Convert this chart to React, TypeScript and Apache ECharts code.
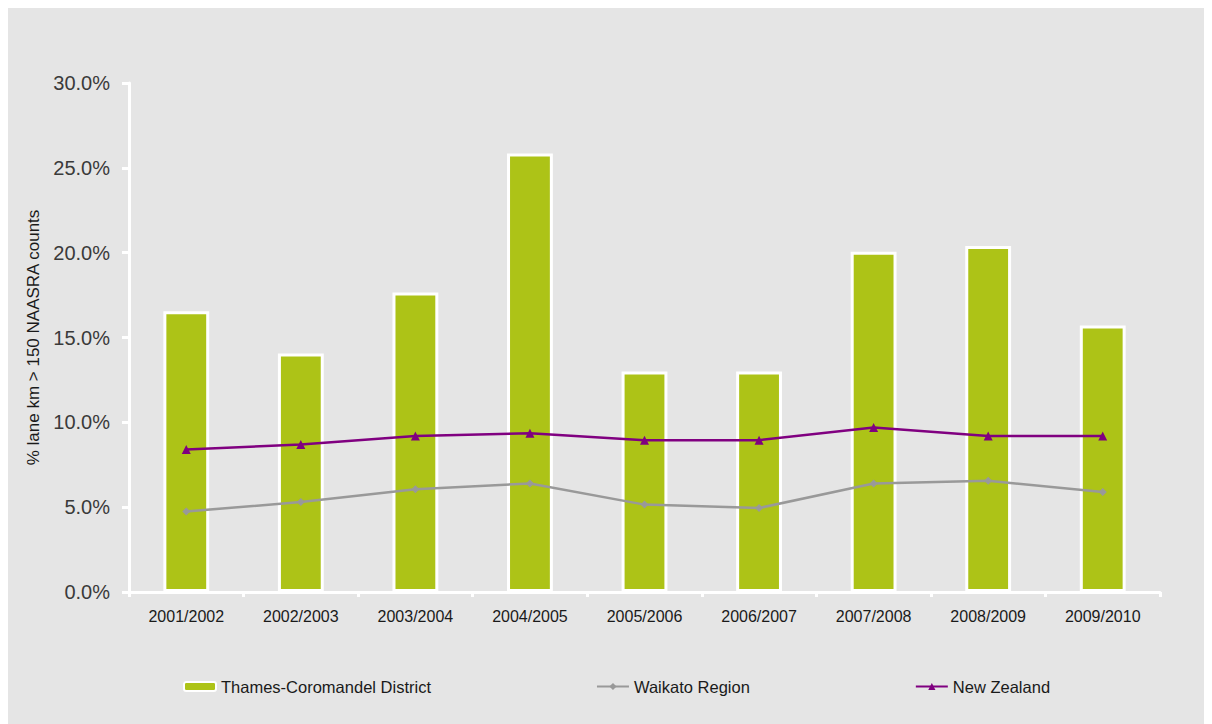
import React, { useEffect, useRef } from "react";
import * as echarts from "echarts";

const categories = ["2001/2002", "2002/2003", "2003/2004", "2004/2005", "2005/2006", "2006/2007", "2007/2008", "2008/2009", "2009/2010"];
const thamesValues = [16.55, 14.05, 17.65, 25.85, 13.0, 13.0, 20.05, 20.4, 15.7];
const waikatoValues = [4.75, 5.3, 6.05, 6.4, 5.15, 4.95, 6.4, 6.55, 5.9];
const nzValues = [8.4, 8.7, 9.2, 9.35, 8.95, 8.95, 9.7, 9.2, 9.2];
const yTicks = { min: 0, max: 30, interval: 5 };

const FONT = "'Liberation Sans', Arial, sans-serif";

export default function App() {
  const ref = useRef<HTMLDivElement>(null);
  useEffect(() => {
    if (!ref.current) return;
    const chart = echarts.init(ref.current, undefined, { renderer: "svg" });
    chart.setOption({
      animation: false,
      backgroundColor: "#e5e5e5",
      textStyle: { fontFamily: FONT },
      grid: { left: 121, right: 52, top: 75, bottom: 132, containLabel: false },
      legend: {
        left: 170,
        top: 665,
        itemGap: 165,
        itemWidth: 32,
        itemHeight: 9,
        textStyle: { fontFamily: FONT, fontSize: 16.5, color: "#1a1a1a" },
        data: [
          { name: "Thames-Coromandel District", itemStyle: { color: "#adc317", borderColor: "#ffffff", borderWidth: 2 } },
          { name: "Waikato Region" },
          { name: "New Zealand" },
        ],
      },
      xAxis: {
        type: "category",
        data: categories,
        axisLine: { show: true, lineStyle: { color: "#ffffff", width: 3 } },
        axisTick: { show: true, alignWithLabel: false, length: 5, lineStyle: { color: "#ffffff", width: 3 } },
        axisLabel: { margin: 16, fontSize: 16, color: "#1a1a1a", fontFamily: FONT },
        splitLine: { show: false },
      },
      yAxis: {
        type: "value",
        min: yTicks.min,
        max: yTicks.max,
        interval: yTicks.interval,
        name: "% lane km > 150 NAASRA counts",
        nameLocation: "middle",
        nameGap: 87,
        nameTextStyle: { fontSize: 17, color: "#1a1a1a", fontFamily: FONT },
        axisLine: { show: true, lineStyle: { color: "#ffffff", width: 3 } },
        axisTick: { show: true, length: 7, lineStyle: { color: "#ffffff", width: 3 } },
        axisLabel: {
          margin: 19,
          fontSize: 20,
          color: "#3a3a3a",
          fontFamily: FONT,
          formatter: (v: number) => v.toFixed(1) + "%",
        },
        splitLine: { show: false },
      },
      series: [
        {
          name: "Thames-Coromandel District",
          type: "bar",
          data: thamesValues,
          barWidth: "40%",
          itemStyle: { color: "#adc317", borderColor: "#ffffff", borderWidth: 3 },
          z: 2,
        },
        {
          name: "Waikato Region",
          type: "line",
          data: waikatoValues,
          symbol: "diamond",
          symbolSize: 8,
          lineStyle: { color: "#999999", width: 2.5 },
          itemStyle: { color: "#999999" },
          z: 3,
        },
        {
          name: "New Zealand",
          type: "line",
          data: nzValues,
          symbol: "triangle",
          symbolSize: 9,
          lineStyle: { color: "#800080", width: 2.5 },
          itemStyle: { color: "#800080" },
          z: 4,
        },
      ],
    });
    return () => chart.dispose();
  }, []);
  return <div ref={ref} style={{ width: 1204, height: 716 }} />;
}
